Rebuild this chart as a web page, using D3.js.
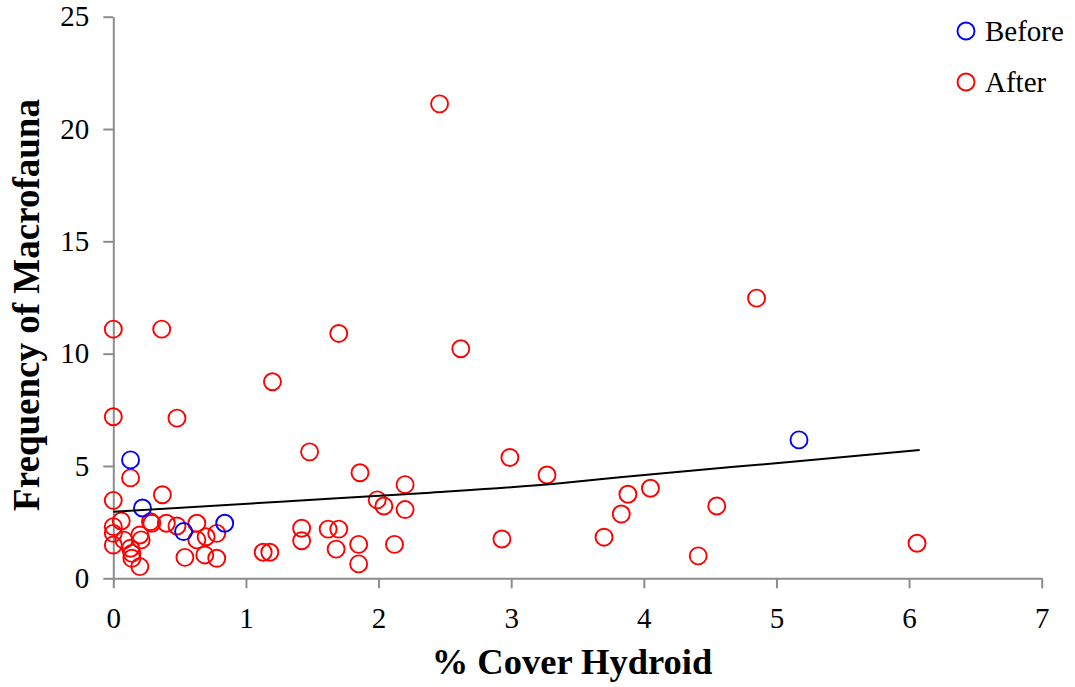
<!DOCTYPE html>
<html>
<head>
<meta charset="utf-8">
<script src="https://cdn.jsdelivr.net/npm/d3@7"></script>
<style>
  html, body { margin: 0; padding: 0; background: #fff; }
  svg { display: block; }
</style>
</head>
<body>
<svg id="chart" width="1075" height="687"></svg>
<script>
// ---- data ----
const seriesNames = ["Before", "After"];
const seriesColors = ["#0000ff", "#ff0000"];

const beforeX = [0.13, 0.22, 0.53, 0.84, 5.17];
const beforeY = [5.27, 3.13, 2.08, 2.45, 6.16];

const afterX = [0, 0.365, 2.46, 4.85, 1.70, 2.62, 1.20, 0, 0.48, 1.48,
                2.99, 1.86, 3.27, 0.13, 2.20, 0.37, 0, 1.99, 2.04, 3.88,
                4.05, 2.20, 3.83, 4.55, 2.93, 3.70, 4.41, 6.06, 1.42, 1.42,
                1.62, 1.70, 1.68, 1.85, 1.85, 2.12, 1.13, 1.18, 0.06, 0,
                0, 0, 0.08, 0.13, 0.14, 0.14, 0.20, 0.20, 0.21, 0.28,
                0.29, 0.40, 0.48, 0.63, 0.63, 0.70, 0.78, 0.54, 0.69, 0.78];
const afterY = [11.09, 11.09, 21.12, 12.47, 10.9, 10.22, 8.75, 7.19, 7.13, 5.63,
                5.38, 4.70, 4.60, 4.47, 4.17, 3.72, 3.47, 3.49, 3.22, 3.74,
                4.01, 3.06, 2.86, 3.22, 1.75, 1.83, 1.0, 1.56, 2.23, 1.67,
                2.19, 2.19, 1.30, 1.51, 0.64, 1.51, 1.16, 1.16, 2.55, 2.3,
                2.0, 1.48, 1.7, 1.34, 1.11, 0.89, 0.52, 1.93, 1.71, 2.52,
                2.45, 2.45, 2.33, 2.45, 1.71, 1.85, 2.0, 0.93, 1.04, 0.89];

// trend line points
const trendX = [0, 1.26, 2.39, 3.37, 3.82, 5.18, 6.08];
const trendY = [2.96, 3.41, 3.81, 4.23, 4.50, 5.22, 5.71];

const xTicks = [0, 1, 2, 3, 4, 5, 6, 7];
const yTicks = [0, 5, 10, 15, 20, 25];

const xTitle = "% Cover Hydroid";
const yTitle = "Frequency of Macrofauna";

// ---- layout ----
const svg = d3.select("#chart");
const plotLeft = 113.3, plotRight = 1041.7, plotTop = 16.7, plotBottom = 578.3;
const x = d3.scaleLinear().domain([0, 7]).range([plotLeft, plotRight]);
const y = d3.scaleLinear().domain([0, 25]).range([plotBottom, plotTop]);

const font = "'Liberation Serif', 'Times New Roman', serif";
const axisColor = "#8c8c8c";

// x axis
const xAxis = svg.append("g").attr("transform", `translate(0,${plotBottom})`)
  .call(d3.axisBottom(x).tickValues(xTicks).tickFormat(d3.format("d")).tickSizeInner(10).tickSizeOuter(0).tickPadding(12));
// y axis
const yAxis = svg.append("g").attr("transform", `translate(${plotLeft},0)`)
  .call(d3.axisLeft(y).tickValues(yTicks).tickFormat(d3.format("d")).tickSizeInner(10).tickSizeOuter(0).tickPadding(14));

[xAxis, yAxis].forEach(g => {
  g.select(".domain").attr("stroke", axisColor).attr("stroke-width", 2);
  g.selectAll(".tick line").attr("stroke", axisColor).attr("stroke-width", 2);
  g.selectAll(".tick text").attr("fill", "#000").style("font-family", font).style("font-size", "29px");
});
xAxis.selectAll(".tick text").attr("dy", "0.95em");

// points: After then Before
const after = afterX.map((v, i) => ({x: v, y: afterY[i]}));
const before = beforeX.map((v, i) => ({x: v, y: beforeY[i]}));

svg.append("g").selectAll("circle").data(after).join("circle")
  .attr("cx", d => x(d.x)).attr("cy", d => y(d.y)).attr("r", 8.5)
  .attr("fill", "none").attr("stroke", seriesColors[1]).attr("stroke-width", 1.9);

svg.append("g").selectAll("circle").data(before).join("circle")
  .attr("cx", d => x(d.x)).attr("cy", d => y(d.y)).attr("r", 8.5)
  .attr("fill", "none").attr("stroke", seriesColors[0]).attr("stroke-width", 1.9);

// trend line
const trend = trendX.map((v, i) => [v, trendY[i]]);
svg.append("path").datum(trend)
  .attr("d", d3.line().x(d => x(d[0])).y(d => y(d[1])).curve(d3.curveMonotoneX))
  .attr("fill", "none").attr("stroke", "#000").attr("stroke-width", 2);

// axis titles
svg.append("text").attr("x", 572).attr("y", 674)
  .attr("text-anchor", "middle").style("font-family", font).style("font-size", "36.5px")
  .style("font-weight", "bold").text(xTitle);
svg.append("text").attr("transform", `translate(39,305) rotate(-90)`)
  .attr("text-anchor", "middle").style("font-family", font).style("font-size", "37px")
  .style("font-weight", "bold").text(yTitle);

// legend
const legend = svg.append("g");
seriesNames.forEach((name, i) => {
  const cy = 31 + i * 51;
  legend.append("circle").attr("cx", 966).attr("cy", cy).attr("r", 8.5)
    .attr("fill", "none").attr("stroke", seriesColors[i]).attr("stroke-width", 1.9);
  legend.append("text").attr("x", 985).attr("y", cy + 10)
    .style("font-family", font).style("font-size", "29px").attr("fill", "#000").text(name);
});
</script>
</body>
</html>
